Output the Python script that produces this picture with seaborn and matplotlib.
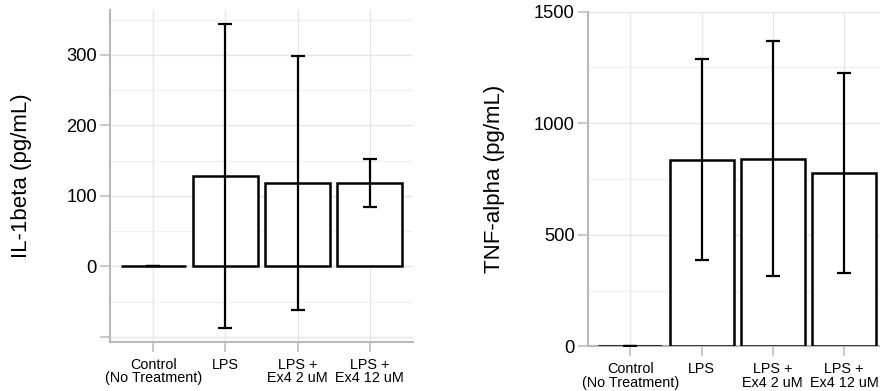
import matplotlib
matplotlib.use("Agg")
import matplotlib.pyplot as plt
import seaborn as sns
import numpy as np
import pandas as pd

# Treatment groups
groups = ["Control\n(No Treatment)", "LPS", "LPS +\nEx4 2 uM", "LPS +\nEx4 12 uM"]

# IL-1beta (pg/mL): mean and standard deviation per group
il1b_mean = [0.0, 128.5, 118.5, 117.8]
il1b_sd = [0.0, 215.5, 180.0, 34.3]

# TNF-alpha (pg/mL): mean and standard deviation per group
tnf_mean = [3.0, 836.0, 840.0, 777.5]
tnf_sd = [0.0, 450.0, 527.0, 448.5]

sns.set_theme(style="white")
plt.rcParams["font.family"] = ["Liberation Sans", "DejaVu Sans"]
plt.rcParams["text.color"] = "black"
plt.rcParams["axes.labelcolor"] = "black"
plt.rcParams["xtick.labelcolor"] = "black"
plt.rcParams["ytick.labelcolor"] = "black"

SPINE = "#b9b9b9"
GRID = "#e6e6e6"
MINOR_GRID = "#f0f0f0"

fig = plt.figure(figsize=(8.8, 3.91), dpi=100)
ax1 = fig.add_axes([0.125, 0.1261, 0.3443, 0.8483])
ax2 = fig.add_axes([0.6678, 0.1143, 0.3397, 0.8558])


def draw_panel(ax, means, sds, ylabel, ylim, major, major_labels, minor, label_x):
    df = pd.DataFrame({"group": groups, "value": means})
    sns.barplot(data=df, x="group", y="value", ax=ax, color="white",
                edgecolor="black", linewidth=1.8, width=0.9, zorder=3)
    ax.errorbar(np.arange(len(groups)), means, yerr=sds, fmt="none",
                ecolor="black", elinewidth=1.6, capsize=5, capthick=1.6,
                zorder=4)
    ax.set_xlim(-0.6, 3.6)
    ax.set_ylim(*ylim)
    ax.set_yticks(major)
    ax.set_yticklabels(major_labels)
    ax.set_yticks(minor, minor=True)
    ax.set_xticks(range(len(groups)))
    ax.set_xticklabels(groups, fontsize=10.4, linespacing=0.95, color="black")

    # light grid behind the bars
    for y in major:
        ax.axhline(y, color=GRID, lw=1.0, zorder=0)
    for y in minor:
        ax.axhline(y, color=MINOR_GRID, lw=1.0, zorder=0)
    for x in range(len(groups)):
        ax.axvline(x, color=GRID, lw=1.0, zorder=0)

    for side in ("top", "right"):
        ax.spines[side].set_visible(False)
    for side in ("left", "bottom"):
        ax.spines[side].set_color(SPINE)
        ax.spines[side].set_linewidth(1.5)

    ax.tick_params(axis="both", which="major", direction="out", length=7,
                   width=1.1, color=SPINE, pad=3, left=True, bottom=True,
                   labelcolor="black")
    ax.tick_params(axis="y", which="major", labelsize=13.2, pad=2.5)
    ax.tick_params(axis="y", which="minor", length=0)
    ax.tick_params(axis="x", pad=4.5)
    ax.set_xlabel("")
    ax.set_ylabel(ylabel, fontsize=16, color="black")
    ax.yaxis.set_label_coords(label_x, 0.5)


draw_panel(ax1, il1b_mean, il1b_sd, "IL-1beta (pg/mL)", (-107, 363.5),
           [-100, 0, 100, 200, 300], ["", "0", "100", "200", "300"],
           [-50, 50, 150, 250, 350], -0.258)
draw_panel(ax2, tnf_mean, tnf_sd, "TNF-alpha (pg/mL)", (0, 1500),
           [0, 500, 1000, 1500], ["0", "500", "1000", "1500"],
           [250, 750, 1250], -0.277)

fig.savefig("out.png", dpi=100)
